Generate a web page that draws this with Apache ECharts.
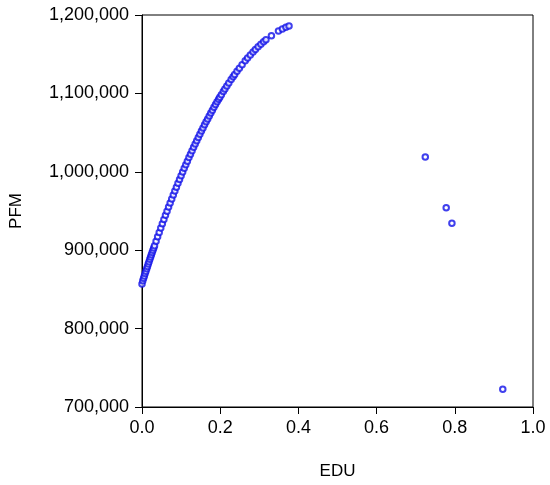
<!DOCTYPE html>
<html>
<head>
<meta charset="utf-8">
<script src="https://cdn.jsdelivr.net/npm/echarts@6/dist/echarts.min.js"></script>
<style>
html,body{margin:0;padding:0;background:#fff;}
#chart{width:550px;height:485px;}
</style>
</head>
<body>
<div id="chart"></div>
<script>
// EDU values (x) and PFM values (y)
const eduVals = [
  0.000, 0.002, 0.004, 0.006, 0.008, 0.010, 0.012, 0.014, 0.016, 0.018,
  0.020, 0.022, 0.024, 0.026, 0.028, 0.030, 0.032, 0.036, 0.040, 0.044,
  0.048, 0.052, 0.056, 0.060, 0.064, 0.068, 0.072, 0.076, 0.080, 0.084,
  0.088, 0.092, 0.096, 0.100, 0.104, 0.108, 0.112, 0.116, 0.120, 0.124,
  0.128, 0.132, 0.136, 0.140, 0.144, 0.148, 0.152, 0.156, 0.160, 0.164,
  0.168, 0.172, 0.176, 0.180, 0.184, 0.188, 0.192, 0.196, 0.199, 0.203,
  0.208, 0.212, 0.217, 0.222, 0.228, 0.233, 0.237, 0.243, 0.249, 0.256,
  0.264, 0.270, 0.277, 0.284, 0.290, 0.297, 0.304, 0.311, 0.317, 0.331,
  0.349, 0.359, 0.368, 0.376,
  0.7245, 0.778, 0.7926, 0.9227
];
const pfmVals = [
  857000, 861100, 864200, 867200, 870300, 873300, 876300, 879300, 882300, 885300,
  888300, 891200, 894200, 897100, 900000, 902900, 905800, 911500, 917100, 922700,
  928200, 933700, 939100, 944500, 949800, 955100, 960300, 965400, 970500, 975500,
  980400, 985300, 990200, 995000, 999700, 1004400, 1009000, 1013600, 1018100, 1022500,
  1026900, 1031200, 1035500, 1039700, 1043800, 1047900, 1052000, 1055900, 1059900, 1063700,
  1067500, 1071300, 1075000, 1078600, 1082200, 1085700, 1089200, 1092600, 1095100, 1098400,
  1102400, 1105600, 1109500, 1113300, 1117700, 1121300, 1124100, 1128200, 1132200, 1136700,
  1141600, 1145100, 1149100, 1152900, 1156000, 1159400, 1162700, 1165800, 1168300, 1173600,
  1179500, 1182200, 1184400, 1186000,
  1018800, 954000, 934400, 722600
];
const xTicks = [0.0, 0.2, 0.4, 0.6, 0.8, 1.0];
const yTicks = [700000, 800000, 900000, 1000000, 1100000, 1200000];
const xName = 'EDU';
const yName = 'PFM';

const points = eduVals.map((x, i) => [x, pfmVals[i]]);
const fmt = v => String(Math.round(v)).replace(/\B(?=(\d{3})+(?!\d))/g, ',');
const FONT = '"Liberation Sans", Arial, sans-serif';

const chart = echarts.init(document.getElementById('chart'), null, {renderer: 'canvas'});
chart.setOption({
  animation: false,
  backgroundColor: '#ffffff',
  grid: {
    left: 140, top: 15, right: 17, bottom: 78,
    show: true, borderColor: '#000', borderWidth: 1, backgroundColor: 'transparent'
  },
  xAxis: {
    type: 'value',
    min: xTicks[0], max: xTicks[xTicks.length - 1], interval: 0.2,
    name: xName, nameLocation: 'middle', nameGap: 56,
    nameTextStyle: {color: '#000', fontSize: 17, fontFamily: FONT},
    axisLine: {show: true, onZero: false, lineStyle: {color: '#000', width: 1}},
    axisTick: {show: true, inside: false, length: 7, lineStyle: {color: '#000'}},
    axisLabel: {color: '#000', fontSize: 18, fontFamily: FONT, margin: 12,
      formatter: v => v.toFixed(1)},
    splitLine: {show: false}
  },
  yAxis: {
    type: 'value',
    min: yTicks[0], max: yTicks[yTicks.length - 1], interval: 100000,
    name: yName, nameLocation: 'middle', nameGap: 117, nameRotate: 90,
    nameTextStyle: {color: '#000', fontSize: 17, fontFamily: FONT},
    axisLine: {show: true, onZero: false, lineStyle: {color: '#000', width: 1}},
    axisTick: {show: true, inside: false, length: 7, lineStyle: {color: '#000'}},
    axisLabel: {color: '#000', fontSize: 18, fontFamily: FONT, margin: 13,
      formatter: v => fmt(v)},
    splitLine: {show: false}
  },
  series: [{
    type: 'scatter',
    data: points,
    symbol: 'emptyCircle',
    symbolSize: 5.5,
    itemStyle: {color: '#1010e8', borderColor: '#1010e8', borderWidth: 1},
    emphasis: {disabled: true}
  }]
});
</script>
</body>
</html>
